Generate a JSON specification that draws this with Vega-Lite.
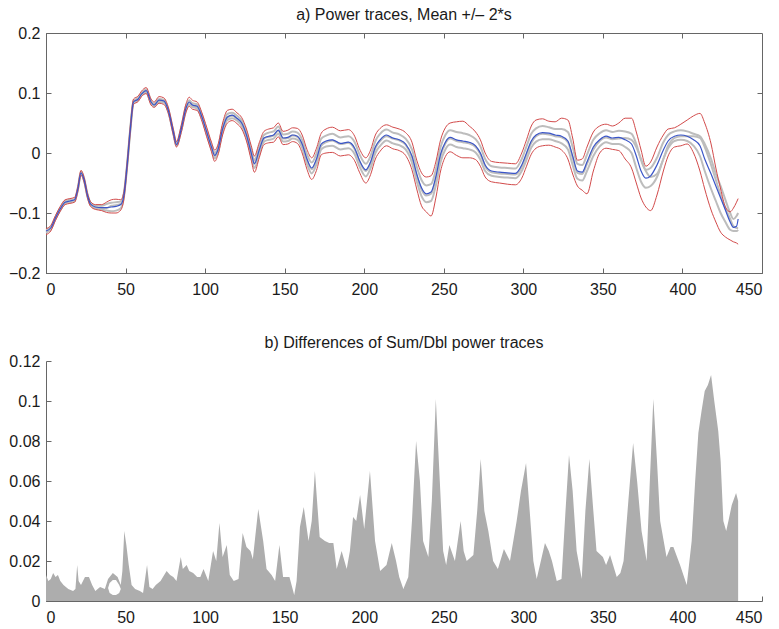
{
"$schema": "https://vega.github.io/schema/vega-lite/v6.json",
"autosize": {"type": "pad"},
"padding": {"left": 7, "top": 6, "right": 5, "bottom": 5},
"background": "white",
"spacing": 88,
"bounds": "flush",
"config": {
  "font": "Liberation Sans",
  "axis": {"grid": false, "domainColor": "#666", "tickColor": "#666", "tickSize": -5, "labelFont": "Liberation Sans", "labelFontSize": 16, "labelColor": "#1a1a1a", "labelOverlap": false, "labelExpr": "replace(toString(datum.value), '-', '\u2212')"},
  "axisX": {"labelPadding": 13},
  "axisY": {"labelPadding": 11},
  "title": {"font": "Liberation Sans", "fontSize": 16, "fontWeight": "normal", "color": "#1a1a1a", "offset": 2}
},
"datasets": {
"top": [
{"x":0,"m":-0.130,"hi":-0.126,"lo":-0.136,"g1":-0.128,"g2":-0.133,"g3":-0.131},
{"x":3,"m":-0.125,"hi":-0.121,"lo":-0.130,"g1":-0.123,"g2":-0.127,"g3":-0.126},
{"x":6,"m":-0.108,"hi":-0.104,"lo":-0.112,"g1":-0.106,"g2":-0.110,"g3":-0.109},
{"x":9,"m":-0.093,"hi":-0.089,"lo":-0.097,"g1":-0.091,"g2":-0.095,"g3":-0.094},
{"x":12,"m":-0.082,"hi":-0.078,"lo":-0.086,"g1":-0.080,"g2":-0.084,"g3":-0.083},
{"x":15,"m":-0.080,"hi":-0.076,"lo":-0.084,"g1":-0.078,"g2":-0.082,"g3":-0.081},
{"x":18,"m":-0.078,"hi":-0.074,"lo":-0.082,"g1":-0.077,"g2":-0.080,"g3":-0.079},
{"x":20,"m":-0.060,"hi":-0.056,"lo":-0.064,"g1":-0.058,"g2":-0.062,"g3":-0.061},
{"x":22,"m":-0.033,"hi":-0.029,"lo":-0.037,"g1":-0.031,"g2":-0.035,"g3":-0.034},
{"x":24,"m":-0.045,"hi":-0.041,"lo":-0.049,"g1":-0.043,"g2":-0.047,"g3":-0.046},
{"x":26,"m":-0.070,"hi":-0.066,"lo":-0.074,"g1":-0.068,"g2":-0.072,"g3":-0.071},
{"x":28,"m":-0.085,"hi":-0.081,"lo":-0.089,"g1":-0.083,"g2":-0.087,"g3":-0.086},
{"x":31,"m":-0.090,"hi":-0.086,"lo":-0.094,"g1":-0.088,"g2":-0.092,"g3":-0.091},
{"x":35,"m":-0.091,"hi":-0.086,"lo":-0.096,"g1":-0.088,"g2":-0.094,"g3":-0.092},
{"x":38,"m":-0.091,"hi":-0.082,"lo":-0.099,"g1":-0.085,"g2":-0.096,"g3":-0.092},
{"x":41,"m":-0.090,"hi":-0.078,"lo":-0.100,"g1":-0.083,"g2":-0.097,"g3":-0.088},
{"x":44,"m":-0.089,"hi":-0.077,"lo":-0.100,"g1":-0.082,"g2":-0.096,"g3":-0.087},
{"x":47,"m":-0.086,"hi":-0.078,"lo":-0.095,"g1":-0.081,"g2":-0.092,"g3":-0.085},
{"x":49,"m":-0.070,"hi":-0.064,"lo":-0.076,"g1":-0.066,"g2":-0.073,"g3":-0.069},
{"x":51,"m":-0.020,"hi":-0.015,"lo":-0.025,"g1":-0.018,"g2":-0.022,"g3":-0.021},
{"x":53,"m":0.040,"hi":0.045,"lo":0.035,"g1":0.042,"g2":0.038,"g3":0.039},
{"x":55,"m":0.085,"hi":0.090,"lo":0.081,"g1":0.087,"g2":0.083,"g3":0.085},
{"x":58,"m":0.090,"hi":0.095,"lo":0.086,"g1":0.092,"g2":0.088,"g3":0.089},
{"x":60,"m":0.098,"hi":0.103,"lo":0.094,"g1":0.100,"g2":0.096,"g3":0.097},
{"x":63,"m":0.104,"hi":0.109,"lo":0.099,"g1":0.106,"g2":0.101,"g3":0.103},
{"x":66,"m":0.085,"hi":0.090,"lo":0.080,"g1":0.087,"g2":0.083,"g3":0.084},
{"x":68,"m":0.080,"hi":0.085,"lo":0.076,"g1":0.082,"g2":0.078,"g3":0.080},
{"x":71,"m":0.088,"hi":0.094,"lo":0.083,"g1":0.090,"g2":0.085,"g3":0.087},
{"x":74,"m":0.087,"hi":0.092,"lo":0.081,"g1":0.089,"g2":0.084,"g3":0.086},
{"x":77,"m":0.070,"hi":0.075,"lo":0.065,"g1":0.072,"g2":0.067,"g3":0.069},
{"x":80,"m":0.035,"hi":0.040,"lo":0.030,"g1":0.037,"g2":0.033,"g3":0.034},
{"x":82,"m":0.014,"hi":0.019,"lo":0.010,"g1":0.016,"g2":0.012,"g3":0.014},
{"x":85,"m":0.040,"hi":0.046,"lo":0.034,"g1":0.043,"g2":0.037,"g3":0.040},
{"x":88,"m":0.075,"hi":0.082,"lo":0.068,"g1":0.078,"g2":0.071,"g3":0.074},
{"x":90,"m":0.085,"hi":0.093,"lo":0.078,"g1":0.088,"g2":0.081,"g3":0.084},
{"x":92,"m":0.080,"hi":0.088,"lo":0.073,"g1":0.083,"g2":0.077,"g3":0.079},
{"x":95,"m":0.078,"hi":0.085,"lo":0.071,"g1":0.081,"g2":0.074,"g3":0.077},
{"x":98,"m":0.060,"hi":0.067,"lo":0.053,"g1":0.063,"g2":0.057,"g3":0.059},
{"x":101,"m":0.035,"hi":0.043,"lo":0.027,"g1":0.038,"g2":0.031,"g3":0.034},
{"x":104,"m":0.010,"hi":0.018,"lo":0.002,"g1":0.014,"g2":0.006,"g3":0.009},
{"x":106,"m":-0.004,"hi":0.005,"lo":-0.014,"g1":0.000,"g2":-0.009,"g3":-0.005},
{"x":108,"m":0.005,"hi":0.013,"lo":-0.004,"g1":0.009,"g2":0.000,"g3":0.004},
{"x":111,"m":0.040,"hi":0.050,"lo":0.030,"g1":0.044,"g2":0.035,"g3":0.039},
{"x":114,"m":0.060,"hi":0.071,"lo":0.050,"g1":0.065,"g2":0.055,"g3":0.059},
{"x":117,"m":0.063,"hi":0.073,"lo":0.054,"g1":0.067,"g2":0.058,"g3":0.062},
{"x":120,"m":0.058,"hi":0.067,"lo":0.049,"g1":0.062,"g2":0.054,"g3":0.057},
{"x":123,"m":0.050,"hi":0.059,"lo":0.040,"g1":0.054,"g2":0.045,"g3":0.049},
{"x":126,"m":0.030,"hi":0.040,"lo":0.020,"g1":0.035,"g2":0.025,"g3":0.029},
{"x":129,"m":0.000,"hi":0.012,"lo":-0.012,"g1":0.006,"g2":-0.006,"g3":-0.001},
{"x":131,"m":-0.018,"hi":-0.005,"lo":-0.032,"g1":-0.012,"g2":-0.025,"g3":-0.017},
{"x":134,"m":0.005,"hi":0.017,"lo":-0.008,"g1":0.011,"g2":-0.002,"g3":0.004},
{"x":137,"m":0.025,"hi":0.036,"lo":0.014,"g1":0.030,"g2":0.019,"g3":0.024},
{"x":140,"m":0.028,"hi":0.040,"lo":0.017,"g1":0.034,"g2":0.022,"g3":0.027},
{"x":143,"m":0.030,"hi":0.042,"lo":0.018,"g1":0.036,"g2":0.024,"g3":0.029},
{"x":146,"m":0.038,"hi":0.050,"lo":0.027,"g1":0.044,"g2":0.032,"g3":0.037},
{"x":149,"m":0.025,"hi":0.036,"lo":0.014,"g1":0.031,"g2":0.019,"g3":0.024},
{"x":152,"m":0.026,"hi":0.038,"lo":0.015,"g1":0.032,"g2":0.020,"g3":0.025},
{"x":155,"m":0.030,"hi":0.042,"lo":0.019,"g1":0.036,"g2":0.024,"g3":0.029},
{"x":158,"m":0.028,"hi":0.041,"lo":0.016,"g1":0.034,"g2":0.022,"g3":0.027},
{"x":161,"m":0.015,"hi":0.030,"lo":0.000,"g1":0.022,"g2":0.008,"g3":0.013},
{"x":164,"m":-0.010,"hi":0.006,"lo":-0.027,"g1":-0.002,"g2":-0.018,"g3":-0.012},
{"x":167,"m":-0.025,"hi":-0.008,"lo":-0.044,"g1":-0.016,"g2":-0.034,"g3":-0.027},
{"x":170,"m":-0.010,"hi":0.008,"lo":-0.029,"g1":-0.001,"g2":-0.019,"g3":-0.013},
{"x":173,"m":0.015,"hi":0.033,"lo":-0.003,"g1":0.024,"g2":0.006,"g3":0.012},
{"x":176,"m":0.020,"hi":0.040,"lo":0.000,"g1":0.029,"g2":0.011,"g3":0.018},
{"x":180,"m":0.022,"hi":0.043,"lo":0.001,"g1":0.032,"g2":0.012,"g3":0.021},
{"x":185,"m":0.016,"hi":0.037,"lo":-0.005,"g1":0.026,"g2":0.006,"g3":0.015},
{"x":190,"m":0.018,"hi":0.039,"lo":-0.003,"g1":0.028,"g2":0.008,"g3":0.017},
{"x":194,"m":0.008,"hi":0.028,"lo":-0.013,"g1":0.018,"g2":-0.002,"g3":0.006},
{"x":197,"m":-0.012,"hi":0.007,"lo":-0.032,"g1":-0.002,"g2":-0.022,"g3":-0.014},
{"x":201,"m":-0.028,"hi":-0.008,"lo":-0.050,"g1":-0.018,"g2":-0.039,"g3":-0.030},
{"x":204,"m":-0.015,"hi":0.005,"lo":-0.036,"g1":-0.005,"g2":-0.025,"g3":-0.017},
{"x":207,"m":0.010,"hi":0.030,"lo":-0.010,"g1":0.020,"g2":0.000,"g3":0.008},
{"x":210,"m":0.022,"hi":0.041,"lo":0.003,"g1":0.032,"g2":0.012,"g3":0.020},
{"x":214,"m":0.030,"hi":0.047,"lo":0.012,"g1":0.039,"g2":0.021,"g3":0.028},
{"x":218,"m":0.025,"hi":0.043,"lo":0.007,"g1":0.034,"g2":0.016,"g3":0.024},
{"x":222,"m":0.022,"hi":0.040,"lo":0.004,"g1":0.031,"g2":0.013,"g3":0.021},
{"x":226,"m":0.015,"hi":0.034,"lo":-0.004,"g1":0.024,"g2":0.006,"g3":0.014},
{"x":230,"m":-0.005,"hi":0.018,"lo":-0.028,"g1":0.006,"g2":-0.016,"g3":-0.007},
{"x":233,"m":-0.035,"hi":-0.012,"lo":-0.060,"g1":-0.023,"g2":-0.047,"g3":-0.038},
{"x":236,"m":-0.058,"hi":-0.033,"lo":-0.088,"g1":-0.045,"g2":-0.072,"g3":-0.061},
{"x":239,"m":-0.068,"hi":-0.040,"lo":-0.098,"g1":-0.054,"g2":-0.082,"g3":-0.071},
{"x":242,"m":-0.065,"hi":-0.038,"lo":-0.105,"g1":-0.052,"g2":-0.080,"g3":-0.068},
{"x":245,"m":-0.040,"hi":-0.015,"lo":-0.075,"g1":-0.028,"g2":-0.054,"g3":-0.043},
{"x":248,"m":-0.002,"hi":0.022,"lo":-0.030,"g1":0.010,"g2":-0.015,"g3":-0.005},
{"x":251,"m":0.018,"hi":0.042,"lo":-0.006,"g1":0.030,"g2":0.006,"g3":0.016},
{"x":254,"m":0.026,"hi":0.050,"lo":0.002,"g1":0.038,"g2":0.014,"g3":0.024},
{"x":258,"m":0.022,"hi":0.052,"lo":-0.004,"g1":0.035,"g2":0.010,"g3":0.020},
{"x":262,"m":0.020,"hi":0.053,"lo":-0.008,"g1":0.033,"g2":0.008,"g3":0.018},
{"x":266,"m":0.018,"hi":0.045,"lo":-0.008,"g1":0.030,"g2":0.006,"g3":0.016},
{"x":270,"m":0.012,"hi":0.035,"lo":-0.011,"g1":0.023,"g2":0.001,"g3":0.010},
{"x":273,"m":0.000,"hi":0.022,"lo":-0.022,"g1":0.011,"g2":-0.011,"g3":-0.002},
{"x":276,"m":-0.020,"hi":0.000,"lo":-0.040,"g1":-0.010,"g2":-0.030,"g3":-0.022},
{"x":280,"m":-0.030,"hi":-0.014,"lo":-0.048,"g1":-0.022,"g2":-0.038,"g3":-0.032},
{"x":285,"m":-0.032,"hi":-0.016,"lo":-0.050,"g1":-0.024,"g2":-0.040,"g3":-0.034},
{"x":290,"m":-0.033,"hi":-0.017,"lo":-0.052,"g1":-0.025,"g2":-0.041,"g3":-0.035},
{"x":295,"m":-0.034,"hi":-0.018,"lo":-0.053,"g1":-0.026,"g2":-0.042,"g3":-0.036},
{"x":299,"m":-0.020,"hi":0.000,"lo":-0.042,"g1":-0.010,"g2":-0.030,"g3":-0.023},
{"x":302,"m":0.000,"hi":0.022,"lo":-0.022,"g1":0.011,"g2":-0.011,"g3":-0.003},
{"x":305,"m":0.020,"hi":0.045,"lo":-0.002,"g1":0.032,"g2":0.009,"g3":0.017},
{"x":308,"m":0.030,"hi":0.055,"lo":0.008,"g1":0.041,"g2":0.019,"g3":0.028},
{"x":312,"m":0.034,"hi":0.057,"lo":0.012,"g1":0.045,"g2":0.023,"g3":0.032},
{"x":316,"m":0.033,"hi":0.053,"lo":0.013,"g1":0.043,"g2":0.023,"g3":0.031},
{"x":320,"m":0.030,"hi":0.052,"lo":0.010,"g1":0.040,"g2":0.020,"g3":0.028},
{"x":324,"m":0.028,"hi":0.058,"lo":0.005,"g1":0.040,"g2":0.016,"g3":0.026},
{"x":328,"m":0.020,"hi":0.055,"lo":-0.010,"g1":0.035,"g2":0.006,"g3":0.018},
{"x":331,"m":-0.005,"hi":0.025,"lo":-0.035,"g1":0.010,"g2":-0.020,"g3":-0.008},
{"x":334,"m":-0.030,"hi":-0.012,"lo":-0.055,"g1":-0.018,"g2":-0.043,"g3":-0.033},
{"x":337,"m":-0.032,"hi":-0.010,"lo":-0.062,"g1":-0.020,"g2":-0.046,"g3":-0.035},
{"x":340,"m":-0.015,"hi":0.010,"lo":-0.068,"g1":-0.003,"g2":-0.030,"g3":-0.018},
{"x":344,"m":0.010,"hi":0.035,"lo":-0.030,"g1":0.022,"g2":-0.005,"g3":0.006},
{"x":348,"m":0.022,"hi":0.045,"lo":0.000,"g1":0.033,"g2":0.011,"g3":0.020},
{"x":352,"m":0.028,"hi":0.048,"lo":0.008,"g1":0.038,"g2":0.018,"g3":0.026},
{"x":356,"m":0.025,"hi":0.045,"lo":0.006,"g1":0.035,"g2":0.015,"g3":0.023},
{"x":360,"m":0.026,"hi":0.050,"lo":0.004,"g1":0.037,"g2":0.015,"g3":0.024},
{"x":364,"m":0.022,"hi":0.058,"lo":-0.010,"g1":0.036,"g2":0.010,"g3":0.025},
{"x":368,"m":0.015,"hi":0.058,"lo":-0.025,"g1":0.032,"g2":0.000,"g3":0.022},
{"x":371,"m":-0.005,"hi":0.035,"lo":-0.050,"g1":0.015,"g2":-0.025,"g3":0.010},
{"x":374,"m":-0.030,"hi":0.005,"lo":-0.075,"g1":-0.012,"g2":-0.048,"g3":-0.010},
{"x":377,"m":-0.042,"hi":-0.022,"lo":-0.090,"g1":-0.028,"g2":-0.058,"g3":-0.030},
{"x":380,"m":-0.038,"hi":-0.015,"lo":-0.096,"g1":-0.025,"g2":-0.055,"g3":-0.040},
{"x":384,"m":-0.020,"hi":0.010,"lo":-0.070,"g1":-0.008,"g2":-0.040,"g3":-0.035},
{"x":388,"m":0.005,"hi":0.030,"lo":-0.030,"g1":0.018,"g2":-0.010,"g3":-0.010},
{"x":391,"m":0.020,"hi":0.040,"lo":-0.005,"g1":0.030,"g2":0.008,"g3":0.012},
{"x":395,"m":0.028,"hi":0.042,"lo":0.010,"g1":0.036,"g2":0.020,"g3":0.025},
{"x":399,"m":0.030,"hi":0.048,"lo":0.012,"g1":0.038,"g2":0.022,"g3":0.028},
{"x":403,"m":0.028,"hi":0.055,"lo":0.015,"g1":0.036,"g2":0.020,"g3":0.028},
{"x":407,"m":0.022,"hi":0.062,"lo":0.000,"g1":0.032,"g2":0.012,"g3":0.028},
{"x":411,"m":0.012,"hi":0.066,"lo":-0.030,"g1":0.028,"g2":-0.005,"g3":0.025},
{"x":414,"m":-0.010,"hi":0.050,"lo":-0.060,"g1":0.015,"g2":-0.030,"g3":0.010},
{"x":418,"m":-0.035,"hi":0.015,"lo":-0.095,"g1":-0.010,"g2":-0.060,"g3":-0.020},
{"x":421,"m":-0.055,"hi":-0.025,"lo":-0.115,"g1":-0.035,"g2":-0.080,"g3":-0.045},
{"x":424,"m":-0.075,"hi":-0.060,"lo":-0.132,"g1":-0.055,"g2":-0.100,"g3":-0.070},
{"x":427,"m":-0.095,"hi":-0.090,"lo":-0.140,"g1":-0.078,"g2":-0.115,"g3":-0.092},
{"x":430,"m":-0.115,"hi":-0.098,"lo":-0.145,"g1":-0.100,"g2":-0.128,"g3":-0.110},
{"x":432,"m":-0.124,"hi":-0.092,"lo":-0.148,"g1":-0.110,"g2":-0.130,"g3":-0.122},
{"x":434,"m":-0.122,"hi":-0.082,"lo":-0.150,"g1":-0.105,"g2":-0.130,"g3":-0.125},
{"x":435,"m":-0.110,"hi":-0.076,"lo":-0.152,"g1":-0.100,"g2":-0.128,"g3":-0.125}
],
"bot": [
{"x":0,"v":0.013},{"x":1.5,"v":0.010},{"x":3,"v":0.011},{"x":4.5,"v":0.014},{"x":6,"v":0.012},{"x":7.5,"v":0.013},{"x":9,"v":0.010},{"x":11,"v":0.008},{"x":14,"v":0.006},{"x":17,"v":0.005},{"x":18.5,"v":0.006},{"x":19.6,"v":0.018},{"x":20.5,"v":0.010},{"x":22,"v":0.008},{"x":24.5,"v":0.012},{"x":27,"v":0.012},{"x":29,"v":0.008},{"x":31,"v":0.005},{"x":34,"v":0.007},{"x":37,"v":0.006},{"x":39,"v":0.011},{"x":42,"v":0.014},{"x":45,"v":0.012},{"x":47,"v":0.008},{"x":48,"v":0.015},{"x":49.2,"v":0.035},{"x":50.5,"v":0.028},{"x":52,"v":0.018},{"x":53.8,"v":0.008},{"x":56,"v":0.006},{"x":59,"v":0.005},{"x":61,"v":0.004},{"x":63.5,"v":0.018},{"x":65,"v":0.007},{"x":67,"v":0.006},{"x":69,"v":0.008},{"x":72,"v":0.010},{"x":75.8,"v":0.015},{"x":78,"v":0.013},{"x":80,"v":0.012},{"x":82,"v":0.010},{"x":84.7,"v":0.022},{"x":86,"v":0.016},{"x":88.4,"v":0.018},{"x":90,"v":0.015},{"x":92.5,"v":0.014},{"x":95,"v":0.012},{"x":97,"v":0.012},{"x":99,"v":0.016},{"x":102,"v":0.010},{"x":105,"v":0.025},{"x":107,"v":0.020},{"x":109,"v":0.039},{"x":111,"v":0.022},{"x":113.6,"v":0.028},{"x":115.5,"v":0.013},{"x":118,"v":0.010},{"x":121,"v":0.011},{"x":123.6,"v":0.034},{"x":126,"v":0.027},{"x":128.5,"v":0.025},{"x":130,"v":0.021},{"x":133.4,"v":0.046},{"x":136.5,"v":0.030},{"x":138.6,"v":0.016},{"x":141.8,"v":0.013},{"x":144,"v":0.010},{"x":146.7,"v":0.028},{"x":149,"v":0.012},{"x":153,"v":0.012},{"x":156,"v":0.003},{"x":157.5,"v":0.010},{"x":159.6,"v":0.037},{"x":162,"v":0.047},{"x":165,"v":0.030},{"x":167,"v":0.040},{"x":169,"v":0.065},{"x":172,"v":0.032},{"x":175.3,"v":0.030},{"x":178,"v":0.029},{"x":180.6,"v":0.029},{"x":182.7,"v":0.016},{"x":185.8,"v":0.025},{"x":189,"v":0.016},{"x":191,"v":0.025},{"x":193,"v":0.042},{"x":195,"v":0.040},{"x":197.4,"v":0.053},{"x":200,"v":0.036},{"x":203.6,"v":0.065},{"x":206.8,"v":0.030},{"x":210,"v":0.015},{"x":214,"v":0.018},{"x":217.3,"v":0.029},{"x":220,"v":0.020},{"x":222,"v":0.012},{"x":224.6,"v":0.006},{"x":227.7,"v":0.012},{"x":230,"v":0.040},{"x":232.6,"v":0.080},{"x":235,"v":0.060},{"x":237,"v":0.030},{"x":240.3,"v":0.022},{"x":242.5,"v":0.050},{"x":245,"v":0.101},{"x":247.5,"v":0.060},{"x":249.6,"v":0.025},{"x":251.5,"v":0.018},{"x":253.5,"v":0.028},{"x":257,"v":0.020},{"x":260.6,"v":0.040},{"x":262.5,"v":0.025},{"x":264.4,"v":0.020},{"x":268.6,"v":0.023},{"x":271,"v":0.045},{"x":273.2,"v":0.071},{"x":275.5,"v":0.045},{"x":278,"v":0.035},{"x":281,"v":0.020},{"x":284,"v":0.016},{"x":287.8,"v":0.026},{"x":291.6,"v":0.020},{"x":295.8,"v":0.040},{"x":298.5,"v":0.055},{"x":301.7,"v":0.069},{"x":304,"v":0.045},{"x":306.3,"v":0.020},{"x":308.4,"v":0.011},{"x":311,"v":0.020},{"x":313.6,"v":0.029},{"x":316,"v":0.025},{"x":318,"v":0.020},{"x":321,"v":0.010},{"x":324,"v":0.011},{"x":326.5,"v":0.045},{"x":328.7,"v":0.073},{"x":331,"v":0.055},{"x":333.5,"v":0.025},{"x":336.7,"v":0.011},{"x":339,"v":0.045},{"x":341.5,"v":0.071},{"x":344,"v":0.045},{"x":346,"v":0.025},{"x":350,"v":0.022},{"x":352,"v":0.018},{"x":354.5,"v":0.023},{"x":358.7,"v":0.012},{"x":361,"v":0.014},{"x":363,"v":0.020},{"x":366,"v":0.050},{"x":369,"v":0.079},{"x":371.5,"v":0.060},{"x":374.3,"v":0.035},{"x":377.5,"v":0.020},{"x":379.5,"v":0.060},{"x":381.7,"v":0.101},{"x":384,"v":0.070},{"x":386,"v":0.040},{"x":390,"v":0.022},{"x":392.5,"v":0.027},{"x":394.3,"v":0.027},{"x":398.5,"v":0.018},{"x":402.7,"v":0.008},{"x":405.8,"v":0.030},{"x":408,"v":0.060},{"x":410,"v":0.084},{"x":412,"v":0.095},{"x":414,"v":0.105},{"x":416,"v":0.108},{"x":418,"v":0.113},{"x":420,"v":0.100},{"x":422.5,"v":0.085},{"x":424,"v":0.070},{"x":425.7,"v":0.040},{"x":427.5,"v":0.035},{"x":428.9,"v":0.040},{"x":431,"v":0.048},{"x":433.7,"v":0.054},{"x":435,"v":0.050}
],
"hole": [
{"x":39,"a":0.0065,"b":0.0065},{"x":40,"a":0.004,"b":0.009},{"x":42,"a":0.003,"b":0.0105},{"x":44,"a":0.003,"b":0.0105},{"x":46,"a":0.004,"b":0.008},{"x":47,"a":0.006,"b":0.006}
]
},
"vconcat": [
{
  "width": 716, "height": 240,
  "title": {"text": "a) Power traces, Mean +/\u2013 2*s"},
  "view": {"stroke": "#666"},
  "data": {"name": "top"},
  "layer": [
    {"layer": [
      {"transform": [{"fold": ["g1","g2","g3"], "as": ["trace","val"]}],
       "mark": {"type": "line", "color": "#bdbdbd", "strokeWidth": 2, "interpolate": "monotone"},
       "encoding": {
         "x": {"field": "x", "type": "quantitative", "title": null, "scale": {"domain": [0,450], "nice": false}, "axis": {"values": [0,50,100,150,200,250,300,350,400,450], "labelOverlap": false}},
         "y": {"field": "val", "type": "quantitative", "title": null, "scale": {"domain": [-0.2,0.2], "nice": false}, "axis": {"values": [-0.2,-0.1,0,0.1,0.2], "labelOverlap": false}},
         "detail": {"field": "trace"}}},
      {"mark": {"type": "line", "color": "#d24a4a", "strokeWidth": 1, "interpolate": "monotone"},
       "encoding": {"x": {"field": "x", "type": "quantitative", "title": null}, "y": {"field": "hi", "type": "quantitative", "title": null}}},
      {"mark": {"type": "line", "color": "#d24a4a", "strokeWidth": 1, "interpolate": "monotone"},
       "encoding": {"x": {"field": "x", "type": "quantitative", "title": null}, "y": {"field": "lo", "type": "quantitative", "title": null}}},
      {"mark": {"type": "line", "color": "#3a55c8", "strokeWidth": 1.2, "interpolate": "monotone"},
       "encoding": {"x": {"field": "x", "type": "quantitative", "title": null}, "y": {"field": "m", "type": "quantitative", "title": null}}}
    ]},
    {"mark": {"type": "line", "opacity": 0},
     "encoding": {
       "x": {"field": "x", "type": "quantitative", "title": null, "axis": {"orient": "top", "labels": false, "domain": false, "values": [50,100,150,200,250,300,350,400]}},
       "y": {"field": "m", "type": "quantitative", "title": null, "axis": {"orient": "right", "labels": false, "domain": false, "values": [-0.1,0,0.1]}}}}
  ],
  "resolve": {"axis": {"x": "independent", "y": "independent"}}
},
{
  "width": 716, "height": 240,
  "title": {"text": "b) Differences of Sum/Dbl power traces", "offset": 2},
  "view": {"stroke": null},
  "layer": [
    {"data": {"name": "bot"},
     "mark": {"type": "area", "color": "#adadad"},
     "encoding": {
       "x": {"field": "x", "type": "quantitative", "title": null, "scale": {"domain": [0,450], "nice": false}, "axis": {"values": [0,50,100,150,200,250,300,350,400,450], "labelOverlap": false}},
       "y": {"field": "v", "type": "quantitative", "title": null, "scale": {"domain": [0,0.12], "nice": false}, "axis": {"values": [0,0.02,0.04,0.06,0.08,0.1,0.12], "labelOverlap": false, "labelSeparation": 0, "labelBound": false}}}},
    {"data": {"name": "hole"},
     "mark": {"type": "area", "color": "white"},
     "encoding": {
       "x": {"field": "x", "type": "quantitative", "title": null, "axis": {"values": [0,50,100,150,200,250,300,350,400,450], "labelOverlap": false}},
       "y": {"field": "a", "type": "quantitative", "title": null, "axis": {"values": [0,0.02,0.04,0.06,0.08,0.1,0.12], "labelOverlap": false, "labelSeparation": 0, "labelBound": false}},
       "y2": {"field": "b"}}}
  ]
}
]
}
